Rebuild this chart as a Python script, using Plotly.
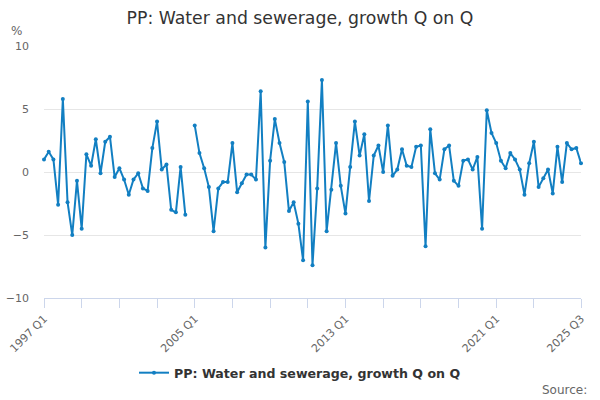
import plotly.graph_objects as go

# Quarterly growth, % Q on Q (1997 Q1 .. 2025 Q3); 2004 Q4 missing
quarters = [f"{y} Q{q}" for y in range(1997, 2026) for q in range(1, 5)][:115]
growth = [
    1.0, 1.6, 1.0, -2.6, 5.8, -2.4, -5.0, -0.7,
    -4.5, 1.4, 0.5, 2.6, -0.1, 2.4, 2.8, -0.4,
    0.3, -0.6, -1.8, -0.6, -0.1, -1.3, -1.5, 1.9,
    4.0, 0.2, 0.6, -3.0, -3.2, 0.4, -3.4, None,
    3.7, 1.5, 0.3, -1.2, -4.7, -1.3, -0.8, -0.8,
    2.3, -1.6, -0.9, -0.2, -0.2, -0.6, 6.4, -6.0,
    0.9, 4.2, 2.3, 0.8, -3.1, -2.4, -4.1, -7.0,
    5.6, -7.4, -1.3, 7.3, -4.7, -1.4, 2.3, -1.1,
    -3.3, 0.4, 4.0, 1.3, 3.0, -2.3, 1.3, 2.1,
    0.0, 3.7, -0.3, 0.2, 1.8, 0.5, 0.4, 2.0,
    2.1, -5.9, 3.4, -0.1, -0.6, 1.8, 2.1, -0.7,
    -1.1, 0.9, 1.0, 0.2, 1.2, -4.5, 4.9, 3.1,
    2.3, 0.9, 0.3, 1.5, 1.0, 0.2, -1.8, 0.7,
    2.4, -1.2, -0.5, 0.2, -1.7, 2.0, -0.8, 2.3,
    1.8, 1.9, 0.7,
]

# tick marks every two years plus the last quarter, labels every eight years
tick_vals = quarters[0:105:8] + [quarters[-1]]
tick_text = [q if q in ("1997 Q1", "2005 Q1", "2013 Q1", "2021 Q1", "2025 Q3") else ""
             for q in tick_vals]

series_name = "PP: Water and sewerage, growth Q on Q"
line_color = "#127fc2"
font = "DejaVu Sans, Verdana, sans-serif"

fig = go.Figure()
fig.add_trace(go.Scatter(
    x=quarters,
    y=growth,
    mode="lines+markers",
    name=series_name,
    line=dict(color=line_color, width=2),
    marker=dict(color=line_color, size=4),
    connectgaps=False,
    cliponaxis=False,
))

fig.update_layout(
    width=600,
    height=400,
    margin=dict(l=44, r=19, t=46, b=102, autoexpand=False),
    paper_bgcolor="white",
    plot_bgcolor="white",
    font=dict(family=font, color="#666666", size=11),
    title=dict(text=series_name, x=0.5, xanchor="center", y=0.955, yanchor="middle",
               font=dict(size=17.3, color="#333333")),
    showlegend=True,
    legend=dict(orientation="h", xref="container", x=0.5, xanchor="center",
                yref="container", y=1 - 373 / 400, yanchor="middle",
                font=dict(size=12.6, color="#333333", family=font, weight="bold")),
    annotations=[
        dict(text="%", xref="paper", yref="paper", x=-0.066, y=1.058, xanchor="left",
             yanchor="middle", showarrow=False, font=dict(size=12, color="#666666")),
        dict(text="Source:", xref="paper", yref="paper", x=1.014, y=-0.365,
             xanchor="right", yanchor="middle", showarrow=False,
             font=dict(size=12, color="#666666")),
    ],
)

fig.update_xaxes(
    type="category",
    range=[0, 114],
    automargin=False,
    tickmode="array",
    tickvals=tick_vals,
    ticktext=tick_text,
    tickangle=-45,
    ticks="outside",
    ticklen=9,
    tickcolor="#ccd6eb",
    showline=True,
    linecolor="#ccd6eb",
    linewidth=1,
    showgrid=False,
    tickfont=dict(size=11, color="#666666"),
)
fig.update_yaxes(
    range=[-10, 10],
    automargin=False,
    tickvals=[-10, -5, 0, 5, 10],
    showgrid=True,
    gridcolor="#e6e6e6",
    zeroline=False,
    ticks="",
    ticklabelstandoff=14,
    tickfont=dict(size=11, color="#666666"),
)

# the page's default body margin would shift the figure by 8px
fig.write_html("out.html", config={"displayModeBar": False},
               post_script="document.body.style.margin='0';")
